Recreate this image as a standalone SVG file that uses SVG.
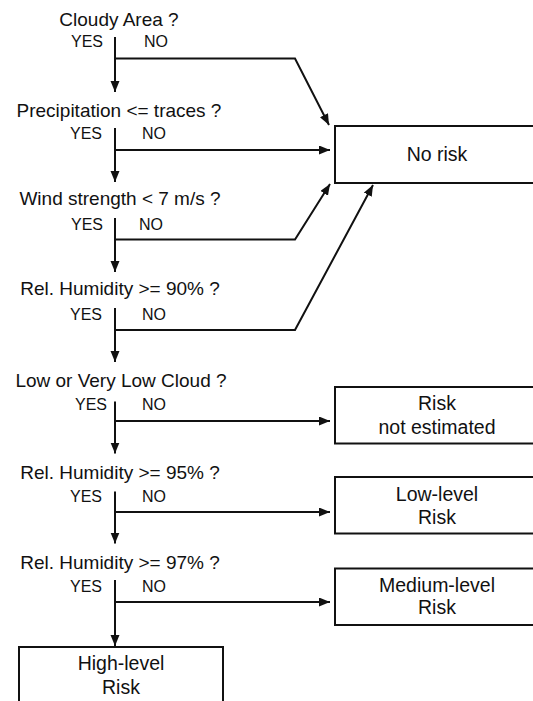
<svg xmlns="http://www.w3.org/2000/svg" width="533" height="701" viewBox="0 0 533 701">
<style>
.q{font-family:"Liberation Sans",Arial,sans-serif;font-size:19px;fill:#111;text-anchor:middle}
.yn{font-family:"Liberation Sans",Arial,sans-serif;font-size:16px;fill:#111}
.bt{font-family:"Liberation Sans",Arial,sans-serif;font-size:19.5px;fill:#111;text-anchor:middle}
.box{fill:#fff;stroke:#111;stroke-width:2}
.ln{fill:none;stroke:#111;stroke-width:2;stroke-linejoin:miter}
</style>
<defs>
<marker id="ah" markerUnits="userSpaceOnUse" markerWidth="12" markerHeight="10" refX="11" refY="4.5" orient="auto">
<path d="M0,0 L11,4.5 L0,9 z" fill="#111"/>
</marker>
</defs>
<rect width="533" height="701" fill="#fff"/>
<g id="q1">
<text class="q" x="119" y="25.5">Cloudy Area ?</text>
<text class="yn" x="103" y="46.5" text-anchor="end">YES</text>
<text class="yn" x="144" y="46.5">NO</text>
</g>
<g id="q2">
<text class="q" x="119" y="117">Precipitation &lt;= traces ?</text>
<text class="yn" x="102" y="138.5" text-anchor="end">YES</text>
<text class="yn" x="142" y="138.5">NO</text>
</g>
<g id="q3">
<text class="q" x="120" y="205">Wind strength &lt; 7 m/s ?</text>
<text class="yn" x="103" y="230" text-anchor="end">YES</text>
<text class="yn" x="139" y="230">NO</text>
</g>
<g id="q4">
<text class="q" x="120" y="295">Rel. Humidity &gt;= 90% ?</text>
<text class="yn" x="102" y="320" text-anchor="end">YES</text>
<text class="yn" x="142" y="320">NO</text>
</g>
<g id="q5">
<text class="q" x="121" y="386.5">Low or Very Low Cloud ?</text>
<text class="yn" x="107" y="410" text-anchor="end">YES</text>
<text class="yn" x="142" y="410">NO</text>
</g>
<g id="q6">
<text class="q" x="120" y="478.5">Rel. Humidity &gt;= 95% ?</text>
<text class="yn" x="102" y="501.5" text-anchor="end">YES</text>
<text class="yn" x="142" y="501.5">NO</text>
</g>
<g id="q7">
<text class="q" x="120" y="568.5">Rel. Humidity &gt;= 97% ?</text>
<text class="yn" x="102" y="591.5" text-anchor="end">YES</text>
<text class="yn" x="142" y="591.5">NO</text>
</g>
<g id="no-risk">
<rect class="box" x="335" y="126" width="206" height="57"/>
<text class="bt" x="437" y="161">No risk</text>
</g>
<g id="not-estimated">
<rect class="box" x="335" y="387" width="206" height="56.5"/>
<text class="bt" x="437" y="410">Risk</text>
<text class="bt" x="437" y="433.5">not estimated</text>
</g>
<g id="low-level">
<rect class="box" x="335" y="477" width="206" height="56.5"/>
<text class="bt" x="437" y="501">Low-level</text>
<text class="bt" x="437" y="524">Risk</text>
</g>
<g id="medium-level">
<rect class="box" x="335" y="568.5" width="206" height="56.5"/>
<text class="bt" x="437" y="591.5">Medium-level</text>
<text class="bt" x="437" y="614">Risk</text>
</g>
<g id="high-level">
<rect class="box" x="19" y="647" width="204" height="70"/>
<text class="bt" x="121" y="670">High-level</text>
<text class="bt" x="121" y="693.5">Risk</text>
</g>
<g id="connectors">
<path class="ln" d="M115,37 V92" marker-end="url(#ah)"/>
<path class="ln" d="M115,58.5 H295 L329,125" marker-end="url(#ah)"/>
<path class="ln" d="M115,128 V182" marker-end="url(#ah)"/>
<path class="ln" d="M115,150 H330" marker-end="url(#ah)"/>
<path class="ln" d="M115,218 V272" marker-end="url(#ah)"/>
<path class="ln" d="M115,239.5 H295 L330,184" marker-end="url(#ah)"/>
<path class="ln" d="M115,308 V362" marker-end="url(#ah)"/>
<path class="ln" d="M115,330 H295 L373,185" marker-end="url(#ah)"/>
<path class="ln" d="M115,401.5 V453.5" marker-end="url(#ah)"/>
<path class="ln" d="M115,421 H330" marker-end="url(#ah)"/>
<path class="ln" d="M115,491.5 V543.5" marker-end="url(#ah)"/>
<path class="ln" d="M115,512 H330" marker-end="url(#ah)"/>
<path class="ln" d="M115,580 V646" marker-end="url(#ah)"/>
<path class="ln" d="M115,602 H330" marker-end="url(#ah)"/>
</g>
</svg>
